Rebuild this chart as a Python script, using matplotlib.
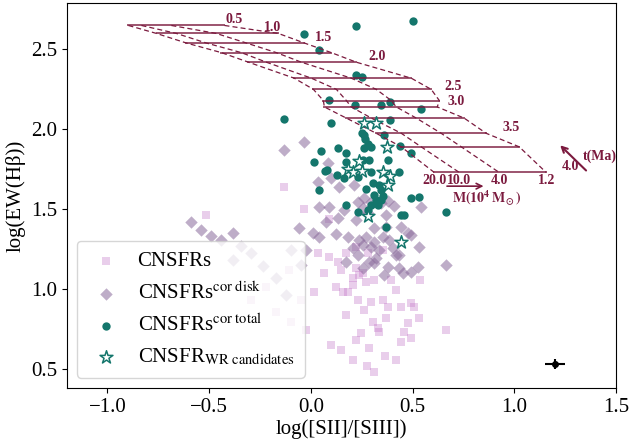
import numpy as np
import matplotlib
matplotlib.use('Agg')
import matplotlib.pyplot as plt

plt.rcParams['font.family'] = ['Liberation Serif', 'DejaVu Serif']
plt.rcParams['mathtext.fontset'] = 'stix'

# --- observed regions: log([SII]/[SIII]) vs log(EW(Hb)) ---
sq_x = [-0.131, -0.032, 0.090, 0.037, 0.090, 0.134, 0.174, 0.223, 0.282, 0.355,
        0.017, 0.066, 0.125, 0.159, 0.184, 0.257, 0.272, 0.311, 0.395, 0.537,
        0.233, 0.296, 0.355, 0.380, 0.444, 0.493, 0.508, 0.174, 0.262, 0.306,
        0.370, 0.478, 0.532, 0.247, 0.331, 0.336, 0.459, 0.493, 0.665, 0.223,
        0.287, 0.444, 0.311, 0.208, 0.366, 0.277, 0.420, 0.150, 0.100, -0.293,
        -0.219, -0.170, -0.096, -0.047, -0.023, -0.106, -0.514, 0.150, 0.208, 0.419,
        0.223, 0.238, 0.208]
sq_y = [1.638, 1.500, 1.438, 1.225, 1.200, 1.169, 1.225, 1.263, 1.225, 1.244,
        0.981, 1.100, 1.013, 0.981, 0.981, 1.100, 1.044, 1.056, 1.056, 1.056,
        0.931, 0.919, 0.931, 0.888, 0.888, 0.913, 0.888, 0.838, 0.869, 0.794,
        0.819, 0.788, 0.819, 0.725, 0.756, 0.731, 0.731, 0.694, 0.744, 0.681,
        0.631, 0.669, 0.481, 0.556, 0.581, 0.519, 0.556, 0.619, 0.650, 0.931,
        1.013, 0.856, 0.794, 0.931, 0.744, 1.119, 1.463, 1.119, 1.025, 0.994,
        1.131, 1.088, 1.069]

dia_x = [-0.131, -0.032, 0.086, 0.037, 0.100, 0.139, 0.213, 0.041, 0.090, 0.164,
         0.233, 0.262, 0.257, 0.296, 0.346, 0.380, 0.410, 0.542, 0.075, 0.134,
         0.223, 0.282, 0.370, 0.311, 0.370, 0.444, 0.493, 0.012, 0.041, 0.125,
         0.184, 0.272, 0.311, 0.355, 0.385, 0.478, 0.233, 0.296, 0.336, 0.434,
         0.532, 0.174, 0.257, 0.311, 0.380, 0.434, 0.360, 0.454, 0.493, 0.527,
         0.665, 0.419, -0.588, -0.538, -0.489, -0.440, -0.381, -0.342, -0.293, -0.381,
         -0.234, -0.170, -0.096, -0.047, -0.121, -0.057, -0.023, 0.238, 0.257, 0.321,
         0.287, 0.208, 0.405]
dia_y = [1.869, 1.919, 1.788, 1.669, 1.694, 1.638, 1.650, 1.513, 1.513, 1.494,
         1.544, 1.569, 1.506, 1.544, 1.538, 1.550, 1.519, 1.513, 1.419, 1.444,
         1.431, 1.475, 1.463, 1.381, 1.388, 1.388, 1.338, 1.350, 1.325, 1.344,
         1.325, 1.325, 1.294, 1.325, 1.306, 1.350, 1.213, 1.263, 1.244, 1.213,
         1.263, 1.169, 1.131, 1.163, 1.138, 1.131, 1.088, 1.100, 1.106, 1.138,
         1.150, 1.213, 1.419, 1.369, 1.331, 1.306, 1.350, 1.269, 1.225, 1.181,
         1.144, 1.069, 1.244, 1.150, 0.963, 1.381, 1.244, 1.306, 1.275, 1.194,
         1.169, 1.256, 1.256]

tot_x = [-0.032, 0.041, 0.223, 0.503, 0.223, 0.252, 0.090, 0.218, 0.346, 0.390,
         0.542, -0.131, 0.100, 0.390, 0.262, 0.360, 0.439, 0.493, 0.051, 0.135,
         0.174, 0.262, 0.296, 0.017, 0.081, 0.174, 0.257, 0.286, 0.071, 0.130,
         0.164, 0.296, 0.434, 0.041, 0.233, 0.336, 0.346, 0.311, 0.321, 0.331,
         0.355, 0.493, 0.532, 0.174, 0.233, 0.282, 0.296, 0.346, 0.444, 0.459,
         0.665, 0.370, 0.272, 0.306, 0.380, 0.252, 0.267, 0.282]
tot_y = [2.594, 2.494, 2.644, 2.681, 2.338, 2.325, 2.181, 2.150, 2.150, 2.169,
         2.125, 2.063, 2.038, 2.056, 1.963, 1.963, 1.894, 1.850, 1.863, 1.881,
         1.850, 1.881, 1.888, 1.794, 1.744, 1.794, 1.806, 1.806, 1.738, 1.713,
         1.694, 1.731, 1.731, 1.619, 1.700, 1.650, 1.619, 1.588, 1.556, 1.525,
         1.581, 1.569, 1.575, 1.525, 1.481, 1.494, 1.525, 1.556, 1.463, 1.463,
         1.481, 1.388, 1.625, 1.663, 1.806, 1.975, 1.938, 1.906]

wr_x = [0.262, 0.321, 0.375, 0.238, 0.184, 0.208, 0.252, 0.355, 0.390, 0.380, 0.282, 0.444]
wr_y = [2.038, 2.038, 1.888, 1.800, 1.750, 1.731, 1.738, 1.731, 1.706, 1.650, 1.456, 1.294]

# typical error
err_x, err_y = [1.2], [0.53]
err_dx, err_dy = [0.05], [0.03]

# --- model grid: equal-age lines (solid) across cluster-mass tracks (dashed) ---
grid_ew = [2.65, 2.60, 2.54, 2.48, 2.42, 2.32, 2.25, 2.18, 2.14, 2.07, 1.975, 1.89, 1.73]
mass_labels = ['20.0', '10.0', '4.0', '1.2']
tracks = [
    [-0.897, -0.759, -0.612, -0.440, -0.307, -0.082, 0.012, 0.061, 0.066, 0.174, 0.321, 0.444, 0.606],
    [-0.833, -0.661, -0.514, -0.342, -0.219, 0.002, 0.125, 0.174, 0.198, 0.297, 0.444, 0.542, 0.729],
    [-0.686, -0.465, -0.317, -0.170, -0.047, 0.198, 0.321, 0.395, 0.419, 0.518, 0.640, 0.739, 0.925],
    [-0.425, -0.160, -0.032, 0.100, 0.223, 0.493, 0.591, 0.631, 0.621, 0.753, 0.861, 1.024, 1.156],
]
age_labels = ['0.5', '1.0', '1.5', '2.0', '2.5', '3.0', '3.5']
age_rows = [0, 1, 2, 4, 6, 7, 10]
# label nudges (points) from the end of each age line
age_offsets = [(7, 4), (-4, 4), (14, 4), (15, 4), (16, 2), (12, -1), (18, 4)]

gcol = '#7b1a3e'
teal = '#14766c'

fig = plt.figure(figsize=(6.3, 4.43), dpi=100)
ax = fig.add_axes([0.106, 0.124, 0.872, 0.869])

ax.scatter(sq_x, sq_y, marker='s', s=30, color='#c173c7', alpha=0.35, linewidths=0,
           label='CNSFRs')
ax.scatter(dia_x, dia_y, marker='D', s=40, color='#8a6a9b', alpha=0.55, linewidths=0,
           label=r'CNSFRs$^{\mathrm{cor\ disk}}$')
ax.scatter(tot_x, tot_y, marker='o', s=36, color=teal, linewidths=0,
           label=r'CNSFRs$^{\mathrm{cor\ total}}$')
ax.scatter(wr_x, wr_y, marker='*', s=95, facecolor='white', edgecolor=teal, linewidths=1.1,
           label=r'CNSFR$_{\mathrm{WR\ candidates}}$', zorder=4)

ax.errorbar(err_x, err_y, xerr=err_dx, yerr=err_dy, fmt='o', color='black',
            ms=4, elinewidth=1.5, capsize=0)

tr = np.array(tracks)
for i, ew in enumerate(grid_ew):
    ax.plot([tr[0, i], tr[-1, i]], [ew, ew], color=gcol, lw=1.4, alpha=0.75)
for row in tr:
    ax.plot(row, grid_ew, color=gcol, lw=0.9, ls=(0, (4, 2.5)))

for lab, r, off in zip(age_labels, age_rows, age_offsets):
    ax.annotate(lab, (tr[-1, r], grid_ew[r]), xytext=off, textcoords='offset points',
                ha='center', va='center', fontsize=10, fontweight='bold', color=gcol)
for lab, x in zip(mass_labels, tr[:, -1]):
    ax.annotate(lab, (x, grid_ew[-1]), xytext=(0, -1), textcoords='offset points',
                ha='center', va='top', fontsize=10, fontweight='bold', color=gcol)

# direction arrows for mass and age
ax.annotate('', xy=(0.862, 1.644), xytext=(0.655, 1.644),
            arrowprops=dict(arrowstyle='->', color=gcol, lw=1.2))
ax.text(0.862, 1.57, r'$\mathbf{M(10^4\,M_\odot)}$', ha='center', va='center',
        fontsize=10, color=gcol)
ax.annotate('', xy=(1.215, 1.912), xytext=(1.362, 1.73),
            arrowprops=dict(arrowstyle='->', color=gcol, lw=1.5))
ax.text(1.277, 1.77, '4.0', ha='center', va='center', fontsize=10, fontweight='bold', color=gcol)
ax.text(1.42, 1.83, 't(Ma)', ha='center', va='center', fontsize=10, fontweight='bold', color=gcol)

ax.set_xlim(-1.2, 1.5)
ax.set_ylim(0.38, 2.79)
ax.set_xticks([-1.0, -0.5, 0.0, 0.5, 1.0, 1.5])
ax.set_yticks([0.5, 1.0, 1.5, 2.0, 2.5])
ax.tick_params(labelsize=15)
ax.set_xlabel('log([SII]/[SIII])', fontsize=15, labelpad=2)
ax.set_ylabel('log(EW(Hβ))', fontsize=15, labelpad=4)

ax.legend(loc='lower left', fontsize=15, handletextpad=0.6, labelspacing=0.5,
          borderpad=0.5, handlelength=1.8)

fig.savefig('out.png', dpi=100)
